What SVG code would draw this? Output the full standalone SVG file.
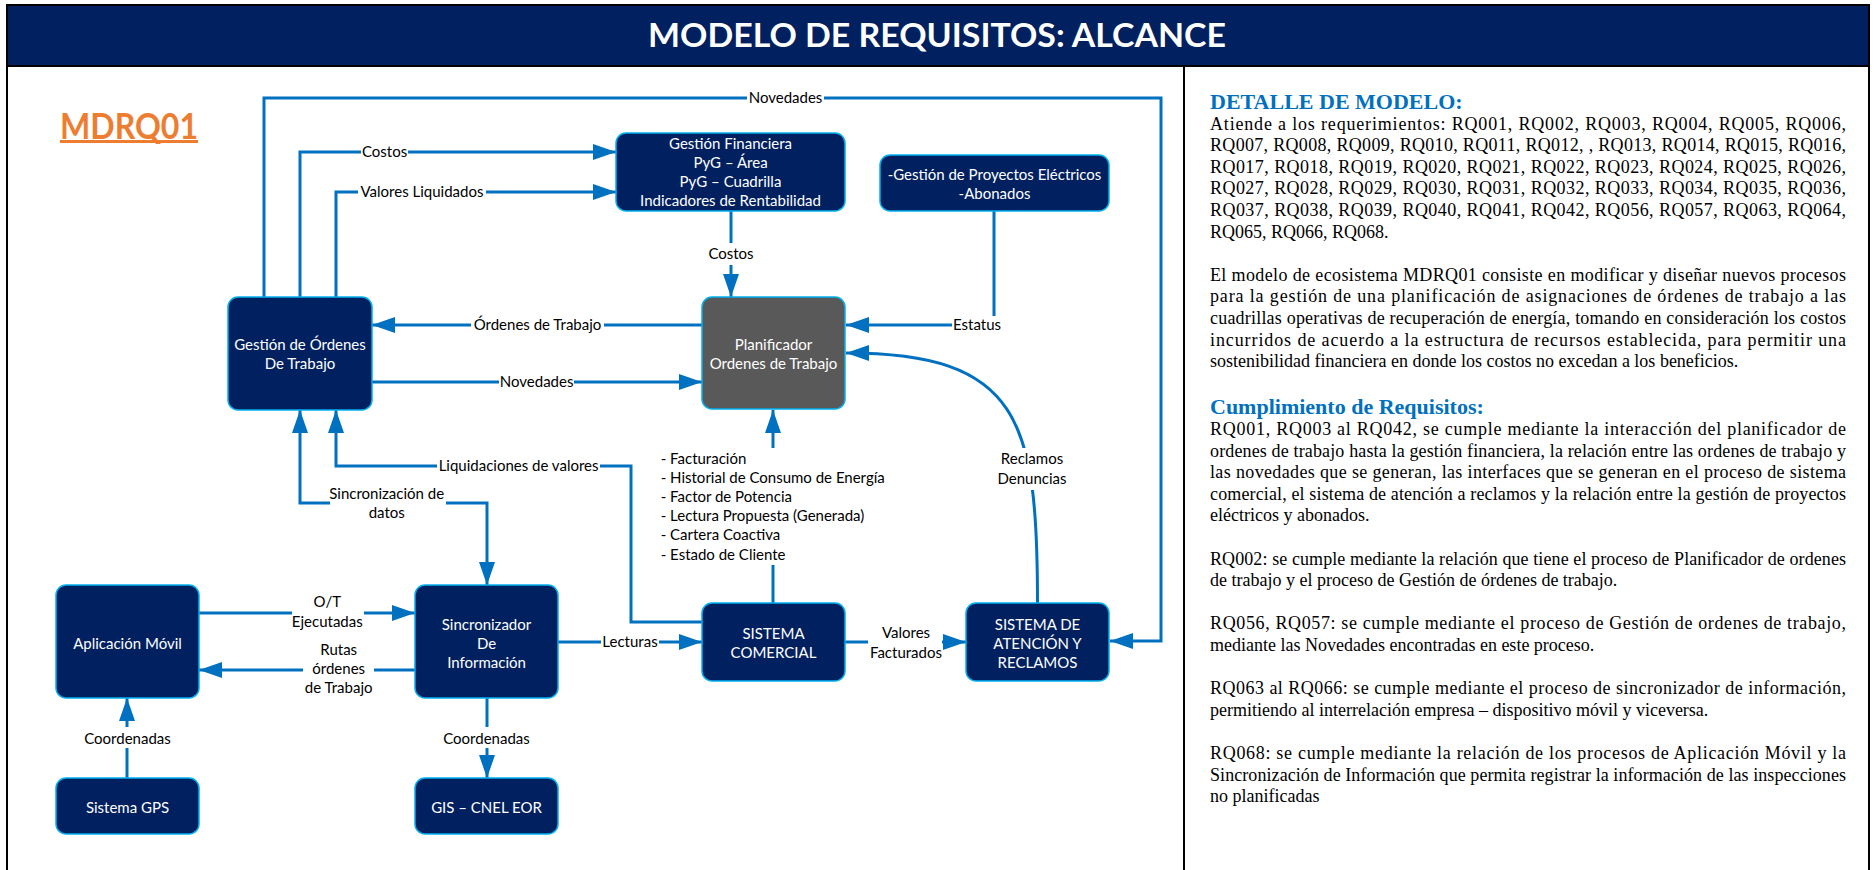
<svg xmlns="http://www.w3.org/2000/svg" width="1874" height="870" viewBox="0 0 1874 870">
<defs>
<marker id="ah" markerUnits="userSpaceOnUse" markerWidth="24" markerHeight="16" refX="23" refY="8" orient="auto-start-reverse">
<path d="M0,0 L23,8 L0,16 z" fill="#0070C0"/>
</marker>
<style>
.node{fill:#002060;stroke:#00B0F0;stroke-width:1.5}
.plan{fill:#595959;stroke:#00B0F0;stroke-width:1.5}
.nt{font-family:Lato,"Open Sans",sans-serif;font-size:15px;fill:#ffffff;text-anchor:middle}
.lt{font-family:Lato,"Open Sans",sans-serif;font-size:15px;fill:#000000;text-anchor:middle}
.ll{font-family:Lato,"Open Sans",sans-serif;font-size:15px;fill:#000000}
.c{fill:none;stroke:#0070C0;stroke-width:3}
.ca{fill:none;stroke:#0070C0;stroke-width:3;marker-end:url(#ah)}
.bg{fill:#ffffff}
.bt{font-family:"Liberation Serif","Times New Roman",serif;font-size:18px;fill:#000000}
.h{font-family:"Liberation Serif","Times New Roman",serif;font-size:22px;font-weight:bold;fill:#0070C0}
</style>
</defs>
<rect x="0" y="0" width="1874" height="870" fill="#ffffff"/>
<g id="frame">
<rect x="7" y="5" width="1862" height="880" fill="none" stroke="#000000" stroke-width="2"/>
<rect x="7" y="5" width="1862" height="61" fill="#002060" stroke="#000000" stroke-width="2"/>
<text x="937" y="47" font-family="Lato,'Open Sans',sans-serif" font-size="32" font-weight="bold" fill="#ffffff" text-anchor="middle" textLength="578" lengthAdjust="spacingAndGlyphs">MODELO DE REQUISITOS: ALCANCE</text>
<line x1="1184" y1="66" x2="1184" y2="870" stroke="#000000" stroke-width="2"/>
</g>
<g id="model-id">
<text x="60" y="139" font-family="Lato,'Open Sans',sans-serif" font-size="37" font-weight="bold" fill="#ED7D31" textLength="138" lengthAdjust="spacingAndGlyphs">MDRQ01</text>
<rect x="60" y="140" width="138" height="3" fill="#ED7D31"/>
</g>
<g id="connectors">
<path class="ca" d="M264,297 V98 H1161 V641 H1110"/>
<path class="ca" d="M300,297 V152 H616"/>
<path class="ca" d="M336,297 V192 H616"/>
<path class="ca" d="M731,211 V297"/>
<path class="ca" d="M994,211 V325 H846"/>
<path class="ca" d="M702,325 H372"/>
<path class="ca" d="M372,382 H702"/>
<path class="c" d="M773,603 V565"/>
<path class="ca" d="M773,448 V410"/>
<path class="ca" d="M702,622 H631 V466 H336 V410"/>
<path class="ca" d="M487,585 V503 H300 V410" style="marker-start:url(#ah)"/>
<path class="ca" d="M199,613 H415"/>
<path class="ca" d="M415,670 H199"/>
<path class="ca" d="M558,642 H702"/>
<path class="ca" d="M845,642 H966"/>
<path class="ca" d="M127,778 V698"/>
<path class="ca" d="M487,698 V778"/>
<path class="ca" d="M1037.5,603 C1037.5,420 1020,353 846,353"/>
<rect class="bg" x="747" y="90" width="77" height="17"/>
<rect class="bg" x="361" y="144" width="47" height="17"/>
<rect class="bg" x="358" y="184" width="128" height="17"/>
<rect class="bg" x="710" y="243" width="42" height="22"/>
<rect class="bg" x="952" y="316" width="50" height="18"/>
<rect class="bg" x="471" y="316" width="133" height="18"/>
<rect class="bg" x="499" y="373" width="75" height="18"/>
<rect class="bg" x="437" y="457" width="163" height="18"/>
<rect class="bg" x="330" y="485" width="116" height="38"/>
<rect class="bg" x="292" y="593" width="72" height="38"/>
<rect class="bg" x="303" y="640" width="71" height="58"/>
<rect class="bg" x="601" y="633" width="58" height="18"/>
<rect class="bg" x="868" y="623" width="74" height="38"/>
<rect class="bg" x="82" y="727" width="91" height="21"/>
<rect class="bg" x="441" y="727" width="90" height="21"/>
<rect class="bg" x="999" y="448" width="70" height="42"/>
<text class="lt" x="785.5" y="103">Novedades</text>
<text class="lt" x="384.6" y="157">Costos</text>
<text class="lt" x="422" y="197">Valores Liquidados</text>
<text class="lt" x="731" y="259">Costos</text>
<text class="lt" x="977" y="330">Estatus</text>
<text class="lt" x="537.5" y="330">Órdenes de Trabajo</text>
<text class="lt" x="536.6" y="387">Novedades</text>
<text class="lt" x="518.6" y="471">Liquidaciones de valores</text>
<text class="lt" x="386.7" y="499">Sincronización de</text>
<text class="lt" x="386.7" y="518">datos</text>
<text class="lt" x="327.3" y="607">O/T</text>
<text class="lt" x="327.3" y="627">Ejecutadas</text>
<text class="lt" x="338.7" y="655">Rutas</text>
<text class="lt" x="338.7" y="674">órdenes</text>
<text class="lt" x="338.7" y="693">de Trabajo</text>
<text class="lt" x="630" y="647">Lecturas</text>
<text class="lt" x="906" y="638">Valores</text>
<text class="lt" x="906" y="658">Facturados</text>
<text class="lt" x="127.5" y="744">Coordenadas</text>
<text class="lt" x="486.5" y="744">Coordenadas</text>
<text class="lt" x="1032" y="464">Reclamos</text>
<text class="lt" x="1032" y="484">Denuncias</text>
<text class="ll" x="660.7" y="464">- Facturación</text>
<text class="ll" x="660.7" y="483.3">- Historial de Consumo de Energía</text>
<text class="ll" x="660.7" y="502.3">- Factor de Potencia</text>
<text class="ll" x="660.7" y="521">- Lectura Propuesta (Generada)</text>
<text class="ll" x="660.7" y="540.3">- Cartera Coactiva</text>
<text class="ll" x="660.7" y="560">- Estado de Cliente</text>
</g>
<g id="gestion-financiera">
<rect class="node" x="616" y="133" width="229" height="78" rx="10"/>
<text class="nt" x="730.5" y="148.5">Gestión Financiera</text>
<text class="nt" x="730.5" y="167.5">PyG – Área</text>
<text class="nt" x="730.5" y="186.5">PyG – Cuadrilla</text>
<text class="nt" x="730.5" y="205.5">Indicadores de Rentabilidad</text>
</g>
<g id="gestion-proyectos">
<rect class="node" x="880" y="155" width="229" height="56" rx="10"/>
<text class="nt" x="994.5" y="179.5">-Gestión de Proyectos Eléctricos</text>
<text class="nt" x="994.5" y="198.5">-Abonados</text>
</g>
<g id="gestion-ordenes">
<rect class="node" x="228" y="297" width="144" height="113" rx="10"/>
<text class="nt" x="300" y="349.5">Gestión de Órdenes</text>
<text class="nt" x="300" y="368.5">De Trabajo</text>
</g>
<g id="planificador">
<rect class="plan" x="702" y="297" width="143" height="112" rx="10"/>
<text class="nt" x="773.5" y="349.5">Planificador</text>
<text class="nt" x="773.5" y="368.5">Ordenes de Trabajo</text>
</g>
<g id="aplicacion-movil">
<rect class="node" x="56" y="585" width="143" height="113" rx="10"/>
<text class="nt" x="127.5" y="648.5">Aplicación Móvil</text>
</g>
<g id="sincronizador">
<rect class="node" x="415" y="585" width="143" height="113" rx="10"/>
<text class="nt" x="486.5" y="629.5">Sincronizador</text>
<text class="nt" x="486.5" y="648.5">De</text>
<text class="nt" x="486.5" y="667.5">Información</text>
</g>
<g id="sistema-comercial">
<rect class="node" x="702" y="603" width="143" height="78" rx="10"/>
<text class="nt" x="773.5" y="638.5">SISTEMA</text>
<text class="nt" x="773.5" y="657.5">COMERCIAL</text>
</g>
<g id="sistema-atencion">
<rect class="node" x="966" y="603" width="143" height="78" rx="10"/>
<text class="nt" x="1037.5" y="629.5">SISTEMA DE</text>
<text class="nt" x="1037.5" y="648.5">ATENCIÓN Y</text>
<text class="nt" x="1037.5" y="667.5">RECLAMOS</text>
</g>
<g id="sistema-gps">
<rect class="node" x="56" y="778" width="143" height="56" rx="10"/>
<text class="nt" x="127.5" y="812.5">Sistema GPS</text>
</g>
<g id="gis">
<rect class="node" x="415" y="778" width="143" height="56" rx="10"/>
<text class="nt" x="486.5" y="812.5">GIS – CNEL EOR</text>
</g>
<g id="detalle">
<text class="h" x="1210" y="108.5">DETALLE DE MODELO:</text>
<text class="bt" x="1210" y="129.5" textLength="636" lengthAdjust="spacing">Atiende a los requerimientos: RQ001, RQ002, RQ003, RQ004, RQ005, RQ006,</text>
<text class="bt" x="1210" y="151.1" textLength="636" lengthAdjust="spacing">RQ007, RQ008, RQ009, RQ010, RQ011, RQ012, , RQ013, RQ014, RQ015, RQ016,</text>
<text class="bt" x="1210" y="172.7" textLength="636" lengthAdjust="spacing">RQ017, RQ018, RQ019, RQ020, RQ021, RQ022, RQ023, RQ024, RQ025, RQ026,</text>
<text class="bt" x="1210" y="194.3" textLength="636" lengthAdjust="spacing">RQ027, RQ028, RQ029, RQ030, RQ031, RQ032, RQ033, RQ034, RQ035, RQ036,</text>
<text class="bt" x="1210" y="215.9" textLength="636" lengthAdjust="spacing">RQ037, RQ038, RQ039, RQ040, RQ041, RQ042, RQ056, RQ057, RQ063, RQ064,</text>
<text class="bt" x="1210" y="237.5">RQ065, RQ066, RQ068.</text>
<text class="bt" x="1210" y="280.7" textLength="636" lengthAdjust="spacing">El modelo de ecosistema MDRQ01 consiste en modificar y diseñar nuevos procesos</text>
<text class="bt" x="1210" y="302.3" textLength="636" lengthAdjust="spacing">para la gestión de una planificación de asignaciones de órdenes de trabajo a las</text>
<text class="bt" x="1210" y="323.9" textLength="636" lengthAdjust="spacing">cuadrillas operativas de recuperación de energía, tomando en consideración los costos</text>
<text class="bt" x="1210" y="345.5" textLength="636" lengthAdjust="spacing">incurridos de acuerdo a la estructura de recursos establecida, para permitir una</text>
<text class="bt" x="1210" y="367.1">sostenibilidad financiera en donde los costos no excedan a los beneficios.</text>
</g>
<g id="cumplimiento">
<text class="h" x="1210" y="413.5">Cumplimiento de Requisitos:</text>
<text class="bt" x="1210" y="435" textLength="636" lengthAdjust="spacing">RQ001, RQ003 al RQ042, se cumple mediante la interacción del planificador de</text>
<text class="bt" x="1210" y="456.6" textLength="636" lengthAdjust="spacing">ordenes de trabajo hasta la gestión financiera, la relación entre las ordenes de trabajo y</text>
<text class="bt" x="1210" y="478.2" textLength="636" lengthAdjust="spacing">las novedades que se generan, las interfaces que se generan en el proceso de sistema</text>
<text class="bt" x="1210" y="499.8" textLength="636" lengthAdjust="spacing">comercial, el sistema de atención a reclamos y la relación entre la gestión de proyectos</text>
<text class="bt" x="1210" y="521.4">eléctricos y abonados.</text>
<text class="bt" x="1210" y="564.6" textLength="636" lengthAdjust="spacing">RQ002: se cumple mediante la relación que tiene el proceso de Planificador de ordenes</text>
<text class="bt" x="1210" y="586.2">de trabajo y el proceso de Gestión de órdenes de trabajo.</text>
<text class="bt" x="1210" y="629.4" textLength="636" lengthAdjust="spacing">RQ056, RQ057: se cumple mediante el proceso de Gestión de ordenes de trabajo,</text>
<text class="bt" x="1210" y="651">mediante las Novedades encontradas en este proceso.</text>
<text class="bt" x="1210" y="694.2" textLength="636" lengthAdjust="spacing">RQ063 al RQ066: se cumple mediante el proceso de sincronizador de información,</text>
<text class="bt" x="1210" y="715.8">permitiendo al interrelación empresa – dispositivo móvil y viceversa.</text>
<text class="bt" x="1210" y="759" textLength="636" lengthAdjust="spacing">RQ068: se cumple mediante la relación de los procesos de Aplicación Móvil y la</text>
<text class="bt" x="1210" y="780.6" textLength="636" lengthAdjust="spacing">Sincronización de Información que permita registrar la información de las inspecciones</text>
<text class="bt" x="1210" y="802.2">no planificadas</text>
</g>
</svg>
